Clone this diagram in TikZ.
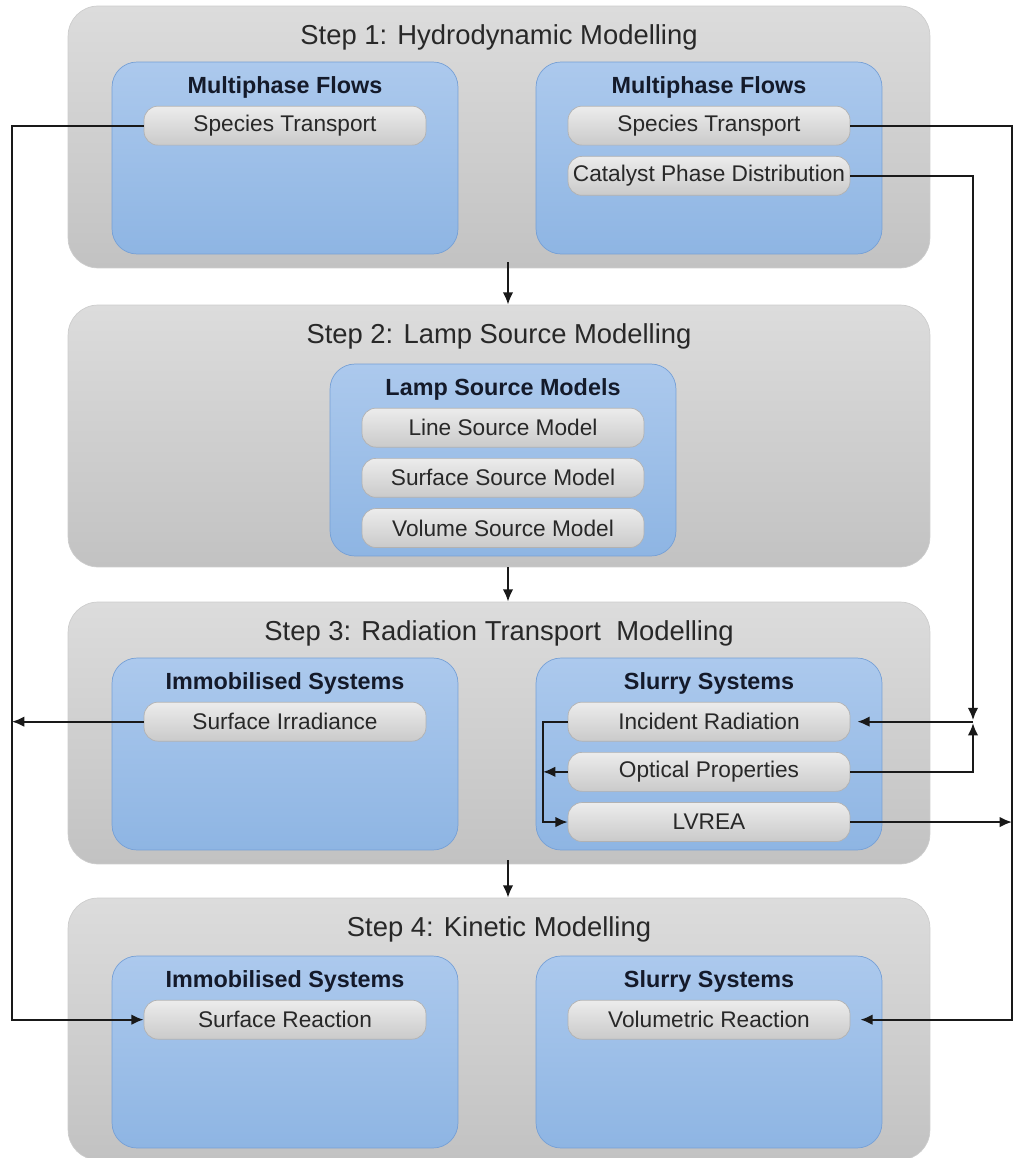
\documentclass[tikz,border=0pt]{standalone}
\usepackage{fontspec}
\setmainfont{Liberation Sans}
\usepackage{xcolor}
\usetikzlibrary{arrows.meta, positioning}

\definecolor{stepTop}{RGB}{220,220,220}
\definecolor{stepBot}{RGB}{194,194,194}
\definecolor{stepLine}{RGB}{205,205,205}
\definecolor{groupTop}{RGB}{172,201,237}
\definecolor{groupBot}{RGB}{142,181,227}
\definecolor{groupLine}{RGB}{118,160,214}
\definecolor{pillTop}{RGB}{236,236,236}
\definecolor{pillBot}{RGB}{202,202,202}
\definecolor{pillLine}{RGB}{178,178,178}
\definecolor{txtGray}{RGB}{40,40,40}
\definecolor{titleBlue}{RGB}{20,26,42}

\begin{document}
\begin{tikzpicture}[
x=0.02cm, y=-0.02cm,
node distance=0.21cm,
stepbox/.style={draw=stepLine,
rounded corners=0.6cm,
top color=stepTop, bottom color=stepBot,
minimum width=17.24cm,
minimum height=5.24cm},
groupbox/.style={draw=groupLine,
rounded corners=0.5cm,
top color=groupTop, bottom color=groupBot,
minimum width=6.92cm,
minimum height=3.84cm},
pill/.style={draw=pillLine,
rounded corners=0.28cm,
top color=pillTop, bottom color=pillBot,
minimum width=5.64cm,
minimum height=0.78cm,
inner sep=0pt,
text=txtGray,
font=\fontsize{12.9}{15}\selectfont},
steptitle/.style={text=txtGray, font=\fontsize{15.6}{18}\selectfont},
grouptitle/.style={text=titleBlue, font=\bfseries\fontsize{13.3}{15}\selectfont},
arrow/.style={-{Latex[length=7pt,width=6pt]}, line width=1.1pt, draw=black!90}
]

\useasboundingbox (0,0) rectangle (1015,1158);

% step 1
\node[stepbox] (s1) at (499,137) {};
\node[steptitle] (t1) at ([yshift=-0.64cm]s1.north) {Step 1: Hydrodynamic Modelling};
\node[groupbox] (g1a) at (285,158) {};
\node[groupbox] (g1b) at (709,158) {};
\node[grouptitle] (h1a) at ([yshift=-0.52cm]g1a.north) {Multiphase Flows};
\node[grouptitle] (h1b) at ([yshift=-0.52cm]g1b.north) {Multiphase Flows};
\node[pill] (st1) at ([yshift=-1.28cm]g1a.north) {Species Transport};
\node[pill] (st2) at ([yshift=-1.28cm]g1b.north) {Species Transport};
\node[pill, below=of st2] (cpd) {Catalyst Phase Distribution};

% step 2
\node[stepbox] (s2) at (499,436) {};
\node[steptitle] (t2) at ([yshift=-0.64cm]s2.north) {Step 2: Lamp Source Modelling};
\node[groupbox] (g2) at (503,460) {};
\node[grouptitle] (h2) at ([yshift=-0.52cm]g2.north) {Lamp Source Models};
\node[pill] (lsm) at ([yshift=-1.28cm]g2.north) {Line Source Model};
\node[pill, below=of lsm] (ssm) {Surface Source Model};
\node[pill, below=of ssm] (vsm) {Volume Source Model};

% step 3
\node[stepbox] (s3) at (499,733) {};
\node[steptitle] (t3) at ([yshift=-0.64cm]s3.north) {Step 3: Radiation Transport~~Modelling};
\node[groupbox] (g3a) at (285,754) {};
\node[groupbox] (g3b) at (709,754) {};
\node[grouptitle] (h3a) at ([yshift=-0.52cm]g3a.north) {Immobilised Systems};
\node[grouptitle] (h3b) at ([yshift=-0.52cm]g3b.north) {Slurry Systems};
\node[pill] (si) at ([yshift=-1.28cm]g3a.north) {Surface Irradiance};
\node[pill] (ir) at ([yshift=-1.28cm]g3b.north) {Incident Radiation};
\node[pill, below=of ir] (op) {Optical Properties};
\node[pill, below=of op] (lv) {LVREA};

% step 4
\node[stepbox] (s4) at (499,1029) {};
\node[steptitle] (t4) at ([yshift=-0.64cm]s4.north) {Step 4: Kinetic Modelling};
\node[groupbox] (g4a) at (285,1052) {};
\node[groupbox] (g4b) at (709,1052) {};
\node[grouptitle] (h4a) at ([yshift=-0.52cm]g4a.north) {Immobilised Systems};
\node[grouptitle] (h4b) at ([yshift=-0.52cm]g4b.north) {Slurry Systems};
\node[pill] (sr) at ([yshift=-1.28cm]g4a.north) {Surface Reaction};
\node[pill] (vr) at ([yshift=-1.28cm]g4b.north) {Volumetric Reaction};

\coordinate (lrail) at (12,0);
\coordinate (rrail) at (1012,0);
\coordinate (crail) at (973,0);
\coordinate (inrail) at (543,0);

\draw[arrow] ([xshift=0.18cm,yshift=0.12cm]s1.south) -- ([xshift=0.18cm]s2.north);
\draw[arrow] ([xshift=0.18cm]s2.south) -- ([xshift=0.18cm]s3.north);
\draw[arrow] ([xshift=0.18cm,yshift=0.08cm]s3.south) -- ([xshift=0.18cm]s4.north);

\draw[arrow] (st1.west) -- (st1.west -| lrail) |- (sr.west);
\draw[arrow] (si.west) -- (si.west -| lrail);
\draw[arrow, shorten >=0.2cm] (st2.east) -- (st2.east -| rrail) |- (vr.east);
\draw[arrow] (lv.east) -- (lv.east -| rrail);

\draw[arrow, shorten >=0.03cm] (cpd.east) -| (ir.east -| crail);
\draw[arrow, shorten >=0.03cm] (op.east) -| (ir.east -| crail);
\draw[arrow, shorten >=0.14cm] (ir.east -| crail) -- (ir.east);

\draw[arrow] (ir.west) -- (ir.west -| inrail) |- (lv.west);
\draw[arrow] (op.west) -- (op.west -| inrail);

\end{tikzpicture}
\end{document}
